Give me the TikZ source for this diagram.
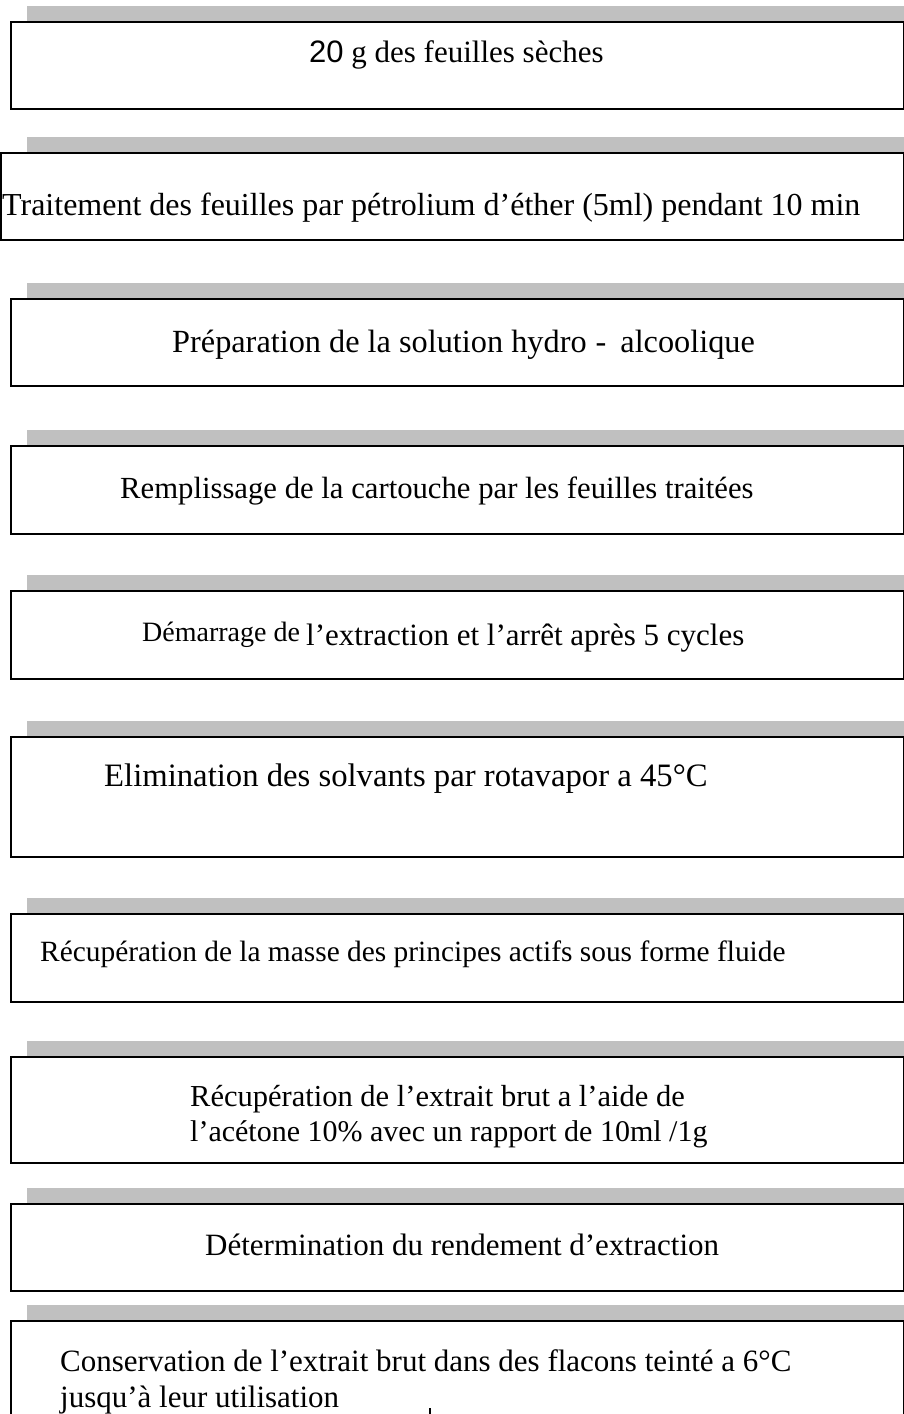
\documentclass[tikz,border=0pt]{standalone}
\usepackage{fontspec}
\setmainfont{Liberation Serif}
\newfontfamily\arialfont{Liberation Sans}
\newcommand{\fsz}[1]{\fontsize{#1}{#1}\selectfont}
\begin{document}
\begin{tikzpicture}[x=1pt,y=-1pt,
  stepbox/.style={draw=black,line width=1.8pt,fill=white,rectangle,inner sep=0pt,anchor=north west},
  barbox/.style={fill=barGray,draw=none,rectangle,inner sep=0pt,anchor=north west},
  label/.style={anchor=base west,inner sep=0pt,font=\fsz{31}}]
\definecolor{barGray}{RGB}{192,192,192}
\useasboundingbox (0,0) rectangle (904,1414);
\begin{scope}
\clip (0,0) rectangle (904,1414);
% gray bars
\foreach \n/\y in {1/6,2/137,3/283,4/430,5/575,6/721,7/898,8/1041,9/1188,10/1305}{
  \node[barbox,minimum width=877pt,minimum height=15pt] (g\n) at (27,\y) {};
}
% boxes
\node[stepbox,minimum width=893pt,minimum height=87pt] (b1) at (10,21) {};
\node[stepbox,minimum width=903pt,minimum height=87pt] (b2) at (0,152) {};
\node[stepbox,minimum width=893pt,minimum height=87pt] (b3) at (10,298) {};
\node[stepbox,minimum width=893pt,minimum height=88pt] (b4) at (10,445) {};
\node[stepbox,minimum width=893pt,minimum height=88pt] (b5) at (10,590) {};
\node[stepbox,minimum width=893pt,minimum height=120pt] (b6) at (10,736) {};
\node[stepbox,minimum width=893pt,minimum height=88pt] (b7) at (10,913) {};
\node[stepbox,minimum width=893pt,minimum height=106pt] (b8) at (10,1056) {};
\node[stepbox,minimum width=893pt,minimum height=87pt] (b9) at (10,1203) {};
\node[stepbox,minimum width=893pt,minimum height=120pt] (b10) at (10,1320) {};
\end{scope}
% texts
\node[label] (t1) at (309,62) {{\arialfont 20} g des feuilles sèches};
\node[label,font=\fsz{32}] (t2) at (2,215) {Traitement des feuilles par pétrolium d’éther (5ml) pendant 10 min};
\node[label,font=\fsz{32.3}] (t3) at (172,352) {Préparation de la solution hydro\hspace{9pt}-\hspace{14pt}alcoolique};
\node[label,font=\fsz{30.7}] (t4) at (120,498) {Remplissage de la cartouche par les feuilles traitées};
\node[label,font=\fsz{28}] (t5a) at (142,641) {Démarrage de};
\node[label] (t5b) at (306,645) {l’extraction et l’arrêt après 5 cycles};
\node[label,font=\fsz{32.7}] (t6) at (104,786) {Elimination des solvants par rotavapor a 45°C};
\node[label,font=\fsz{29.4}] (t7) at (40,961) {Récupération de la masse des principes actifs sous forme fluide};
\node[label,font=\fsz{30.5}] (t8a) at (190,1106) {Récupération de l’extrait brut a l’aide de};
\node[label,font=\fsz{30}] (t8b) at (190,1141) {l’acétone 10\% avec un rapport de 10ml /1g};
\node[label,font=\fsz{31}] (t9) at (205,1255) {Détermination du rendement d’extraction};
\node[label] (t10a) at (60,1371) {Conservation de l’extrait brut dans des flacons teinté a 6°C};
\node[label] (t10b) at (60,1407) {jusqu’à leur utilisation};
\node[fill=black,inner sep=0pt,minimum width=2.5pt,minimum height=6pt,anchor=north] (tick) at (430,1408) {};
\end{tikzpicture}
\end{document}
